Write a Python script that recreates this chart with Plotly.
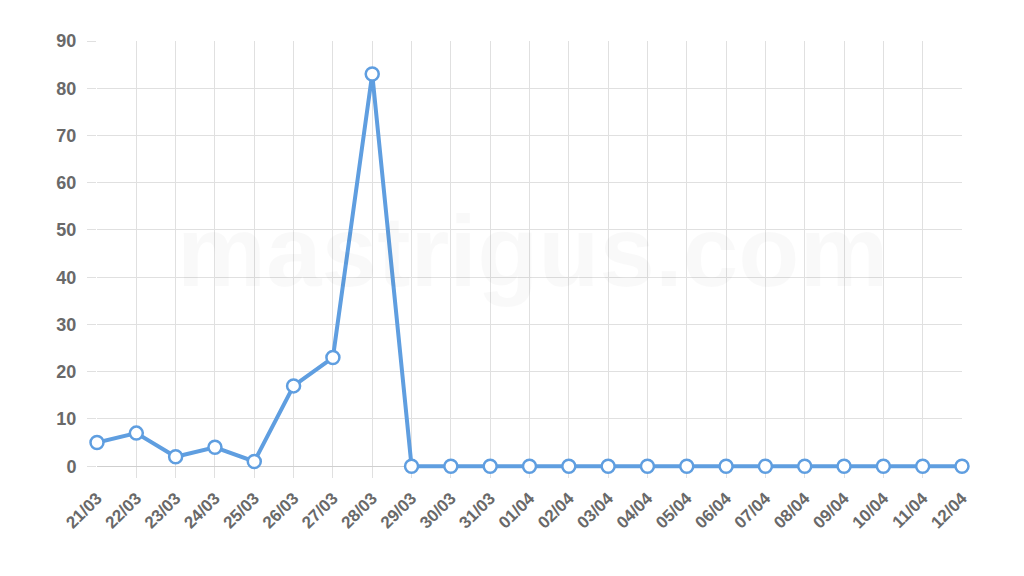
import plotly.graph_objects as go

# dates and daily counts
dates = ["21/03", "22/03", "23/03", "24/03", "25/03", "26/03", "27/03", "28/03",
         "29/03", "30/03", "31/03", "01/04", "02/04", "03/04", "04/04", "05/04",
         "06/04", "07/04", "08/04", "09/04", "10/04", "11/04", "12/04"]
counts = [5, 7, 2, 4, 1, 17, 23, 83,
          0, 0, 0, 0, 0, 0, 0, 0,
          0, 0, 0, 0, 0, 0, 0]
y_ticks = [0, 10, 20, 30, 40, 50, 60, 70, 80, 90]

blue = "#5f9ee0"
grid = "#e0e0e0"
label_font = dict(family="Liberation Sans", size=18, color="#696969", weight="bold")

fig = go.Figure()
fig.add_trace(go.Scatter(
    x=dates, y=counts, mode="lines+markers",
    line=dict(color=blue, width=4),
    marker=dict(size=13, color="white", line=dict(color=blue, width=2.5)),
    cliponaxis=False, hoverinfo="x+y",
))

# faint watermark
fig.add_annotation(text="mastrigus.com", xref="paper", yref="paper", x=0.503, y=0.52,
                   showarrow=False,
                   font=dict(family="Liberation Sans", size=100, color="rgba(0,0,0,0.025)",
                             weight="bold"))

# page body adds an 8px offset, margins compensate for it
fig.update_layout(
    width=1024, height=576,
    margin=dict(l=89, r=70, t=33, b=106),
    plot_bgcolor="white", paper_bgcolor="white",
    showlegend=False,
)
fig.update_xaxes(
    type="category", range=[0, len(dates) - 1],
    showgrid=True, gridcolor=grid, gridwidth=1,
    ticks="", tickangle=-45, tickfont=dict(label_font, size=17), ticklabelstandoff=6,
    showline=False, zeroline=False,
)
fig.update_yaxes(
    range=[-2.5, 90], tickvals=y_ticks,
    showgrid=True, gridcolor=grid, gridwidth=1,
    ticks="outside", ticklen=9, tickcolor=grid, ticklabelstandoff=7,
    tickfont=label_font, zeroline=True, zerolinecolor="#cfcfcf", zerolinewidth=1,
    showline=False,
)

fig.write_html("out.html")
